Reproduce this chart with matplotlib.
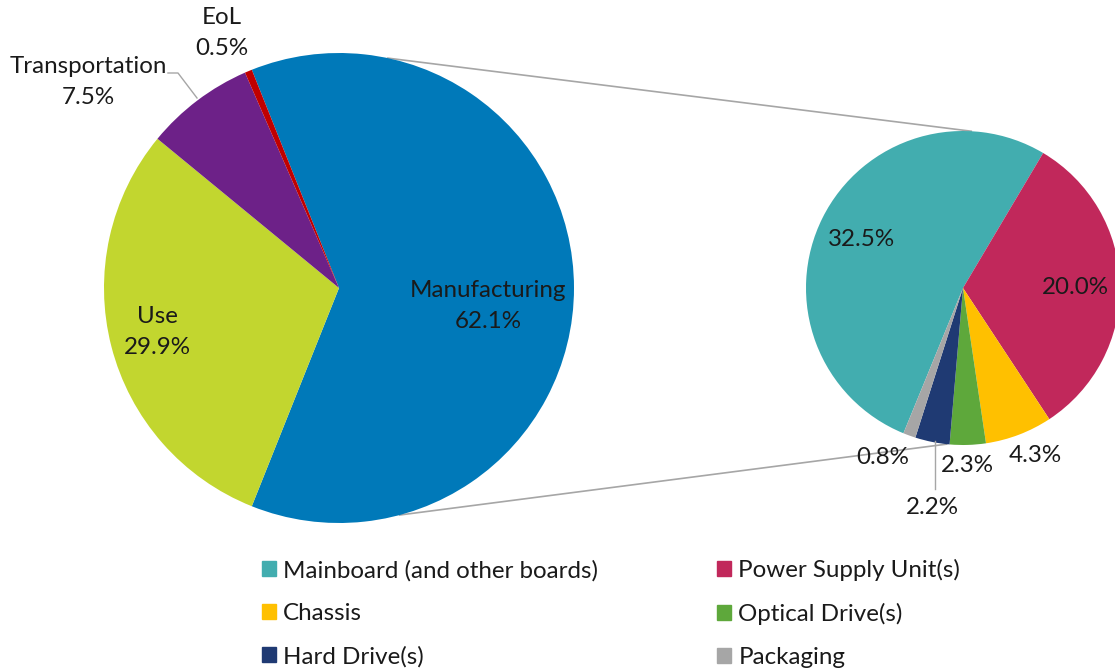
import numpy as np
import matplotlib.pyplot as plt
from matplotlib.patches import Patch

plt.rcParams['font.family'] = ['Lato', 'DejaVu Sans']

# life cycle stages (left pie)
stages = ["Manufacturing", "Use", "Transportation", "EoL"]
stage_share = [62.1, 29.9, 7.5, 0.5]
stage_colors = ["#0079B9", "#C2D62F", "#6D2188", "#C00000"]

# manufacturing breakdown (right pie)
parts = ["Mainboard (and other boards)", "Power Supply Unit(s)", "Chassis",
         "Optical Drive(s)", "Hard Drive(s)", "Packaging"]
part_share = [32.5, 20.0, 4.3, 2.3, 2.2, 0.8]
part_colors = ["#42ADAF", "#C1285B", "#FFC000", "#5EA83B", "#1F3A73", "#A6A6A6"]

W, H = 1115, 669
def Y(y):
    return H - y

fig = plt.figure(figsize=(11.15, 6.69), dpi=100)
ax = fig.add_axes([0, 0, 1, 1])

# -------------------------------
# pies
# -------------------------------
c1, r1 = (339, Y(288)), 235
c2, r2 = (963, Y(288)), 157

ax.pie(stage_share, colors=stage_colors, startangle=stage_share[0] / 2 * 3.6,
       counterclock=False, center=c1, radius=r1,
       wedgeprops=dict(linewidth=0))
wedges2, _ = ax.pie(part_share, colors=part_colors, startangle=247.7,
                    counterclock=False, center=c2, radius=r2,
                    wedgeprops=dict(linewidth=0))

# connector lines
def on_circle(c, r, deg):
    a = np.radians(deg)
    return c[0] + r * np.cos(a), c[1] + r * np.sin(a)

for a1, a2 in [(78, 87), (-75, -96)]:
    p1 = on_circle(c1, r1, a1)
    p2 = on_circle(c2, r2, a2)
    ax.plot([p1[0], p2[0]], [p1[1], p2[1]], color="#A6A6A6", lw=1.2, zorder=0.5)

# -------------------------------
# labels
# -------------------------------
fs = 17.4
txt = dict(fontsize=fs, color="#1a1a1a", ha="center", va="center", linespacing=1.62)

stage_pos = [(488, 306), (157, 332), (88, 82), (222, 33)]
for name, v, (x, y) in zip(stages, stage_share, stage_pos):
    ax.text(x, Y(y), f"{name}\n{v:.1f}%", **txt)

part_pos = [(862, 240), (1075, 287), (1035, 456), (967, 465), (932, 507), (883, 458)]
for v, (x, y) in zip(part_share, part_pos):
    ax.text(x, Y(y), f"{v:.1f}%", **txt)

# leader lines
ax.plot([168, 178, 197], [Y(73), Y(73), Y(98)], color="#A6A6A6", lw=1)
ax.plot([935, 935], [Y(441), Y(489)], color="#A6A6A6", lw=1)

# -------------------------------
# legend
# -------------------------------
handles = [Patch(color=c) for c in part_colors]
order = [0, 2, 4, 1, 3, 5]
ax.legend([handles[i] for i in order], [parts[i] for i in order],
          ncol=2, loc="upper left", bbox_to_anchor=(262 / W, 1 - 559 / H),
          frameon=False, fontsize=fs, handlelength=0.56, handleheight=0.56,
          handletextpad=0.32, labelspacing=0.9, columnspacing=4.92,
          borderpad=0, borderaxespad=0, labelcolor="#1a1a1a")

ax.set_xlim(0, W)
ax.set_ylim(0, H)
ax.set_aspect("equal")
ax.axis("off")

fig.savefig("out.png", dpi=100)
